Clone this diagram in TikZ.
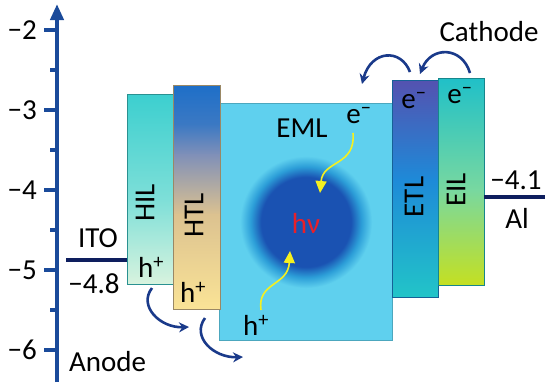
\documentclass[tikz,border=0pt]{standalone}
\usepackage{fontspec}
\setmainfont{Carlito}
\usetikzlibrary{arrows.meta}
\definecolor{axisc}{HTML}{1A4A9A}
\definecolor{navy}{HTML}{0E1E5E}
\definecolor{arrc}{HTML}{1A3A8A}
\definecolor{emlc}{HTML}{5FD0EE}
\definecolor{corec}{HTML}{1A52B2}
\definecolor{ringc}{HTML}{2C9ED8}
\definecolor{hiltop}{HTML}{3CCFCF}
\definecolor{hilmid}{HTML}{7EDFD8}
\definecolor{hilbot}{HTML}{D8F3DE}
\definecolor{htltop}{HTML}{1E6FC8}
\definecolor{htlgray}{HTML}{8090B8}
\definecolor{htltan}{HTML}{DCC290}
\definecolor{htlbot}{HTML}{FAE396}
\definecolor{etltop}{HTML}{5452B0}
\definecolor{etlmid}{HTML}{1E8AD8}
\definecolor{etlbot}{HTML}{22C4C8}
\definecolor{eiltop}{HTML}{20C0C8}
\definecolor{eilmid}{HTML}{78D8A0}
\definecolor{eilbot}{HTML}{C4E022}
\definecolor{yel}{HTML}{F5F020}
\definecolor{hvred}{HTML}{E8202A}
\pgfdeclareradialshading{glow}{\pgfpoint{0bp}{0bp}}{color(0bp)=(corec); color(17bp)=(corec); color(21bp)=(ringc); color(25bp)=(emlc); color(50bp)=(emlc)}
\begin{document}
\begin{tikzpicture}[x=1pt,y=-1pt,
  lbl/.style={font=\fontsize{29}{32}\selectfont, inner sep=0pt, text=black},
  tick/.style={font=\fontsize{29}{32}\selectfont, inner sep=0pt, anchor=east},
  bar/.style={line width=4pt, navy},
  hop/.style={line width=2.6pt, arrc, -{Stealth[length=10pt,width=10pt]}},
  yarr/.style={line width=1.6pt, yel, -{Triangle[length=12pt,width=11pt]}},
  edge/.style={line width=0.5pt}
]
\useasboundingbox (0,0) rectangle (550,388);
\fill[white] (0,0) rectangle (550,388);
% axis
\draw[line width=4pt, axisc, -{Triangle[length=16pt,width=13pt]}] (57,382) -- (57,4);
\foreach \y/\t in {30/−2,110/−3,190/−4,270/−5,350/−6}{
  \draw[line width=4pt, axisc] (44,\y) -- (57,\y);
  \node[tick] (t\y) at (37,\y) {\t};
}
\foreach \y in {70,150,230,310}{
  \draw[line width=4pt, axisc] (50,\y) -- (57,\y);
}
\node[lbl, anchor=west] (anode) at (69,362) {Anode};
% ITO
\draw[bar] (66,260) -- (127,260);
\node[lbl] (ito) at (98,238) {ITO};
\node[lbl] (itov) at (94,284) {−4.8};
% EML
\fill[emlc] (219,103) rectangle (392,340);
\draw[edge, emlc!80!black] (219,103) rectangle (392,340);
\shade[shading=glow] (306,222) circle (66);
% HIL
\shade[top color=hiltop, bottom color=hilmid] (127,94) rectangle (173,200);
\shade[top color=hilmid, bottom color=hilbot] (127,199.5) rectangle (173,284);
\draw[edge, hiltop!70!black] (127,94) rectangle (173,284);
% HTL
\shade[top color=htltop, bottom color=htltop!70!htlgray] (173,85) rectangle (220,125);
\shade[top color=htltop!70!htlgray, bottom color=htlgray] (173,124.5) rectangle (220,155);
\shade[top color=htlgray, bottom color=htltan] (173,154.5) rectangle (220,215);
\shade[top color=htltan, bottom color=htlbot] (173,214.5) rectangle (220,309);
\draw[edge, htltan!70!black] (173,85) rectangle (220,309);
% ETL
\shade[top color=etltop, bottom color=etlmid] (392,80) rectangle (438,180);
\shade[top color=etlmid, bottom color=etlbot] (392,179.5) rectangle (438,297);
\draw[edge, etlmid!70!black] (392,80) rectangle (438,297);
% EIL
\shade[top color=eiltop, bottom color=eilmid] (438,78) rectangle (484,190);
\shade[top color=eilmid, bottom color=eilbot] (438,189.5) rectangle (484,285);
\draw[edge, eiltop!70!black] (438,78) rectangle (484,285);
% Al
\draw[bar] (484,197) -- (545,197);
\node[lbl] (alv) at (516,180) {−4.1};
\node[lbl] (al) at (517,218) {Al};
\node[lbl] (cath) at (489,32) {Cathode};
% layer labels
\node[lbl, rotate=90] (hil) at (145,203) {HIL};
\node[lbl, rotate=90] (htl) at (194,215) {HTL};
\node[lbl, rotate=90] (etl) at (414,197) {ETL};
\node[lbl, rotate=90] (eil) at (456,190) {EIL};
\node[lbl] (eml) at (302,128) {EML};
\node[lbl] (hilh) at (151,267) {h\textsuperscript{+}};
\node[lbl] (htlh) at (193,292) {h\textsuperscript{+}};
\node[lbl] (emlh) at (256,325) {h\textsuperscript{+}};
\node[lbl] (emle) at (359,116) {e\textsuperscript{−}};
\node[lbl] (etle) at (414,101) {e\textsuperscript{−}};
\node[lbl] (eile) at (460,96) {e\textsuperscript{−}};
\node[lbl, text=hvred] (hv) at (306,223) {hν};
% connector endpoints
\coordinate (a1s) at (410,72);  \coordinate (a1e) at (362,84);
\coordinate (a2s) at (470,73);  \coordinate (a2e) at (420,74);
\coordinate (b1s) at (152,288); \coordinate (b1e) at (189,327);
\coordinate (b2s) at (205,318); \coordinate (b2e) at (243,357);
\coordinate (y1s) at (353,133); \coordinate (y1e) at (320,193);
\coordinate (y2s) at (261,310); \coordinate (y2e) at (290,251);
\draw[hop] (a1s) .. controls (401,48) and (371,50) .. (a1e);
\draw[hop] (a2s) .. controls (462,46) and (431,46) .. (a2e);
\draw[hop] (b1s) .. controls (138,306) and (160,328) .. (b1e);
\draw[hop] (b2s) .. controls (191,337) and (214,358) .. (b2e);
\draw[yarr] (y1s) .. controls (356,166) and (323,160) .. (y1e);
\draw[yarr] (y2s) .. controls (257,282) and (288,286) .. (y2e);
\end{tikzpicture}
\end{document}
